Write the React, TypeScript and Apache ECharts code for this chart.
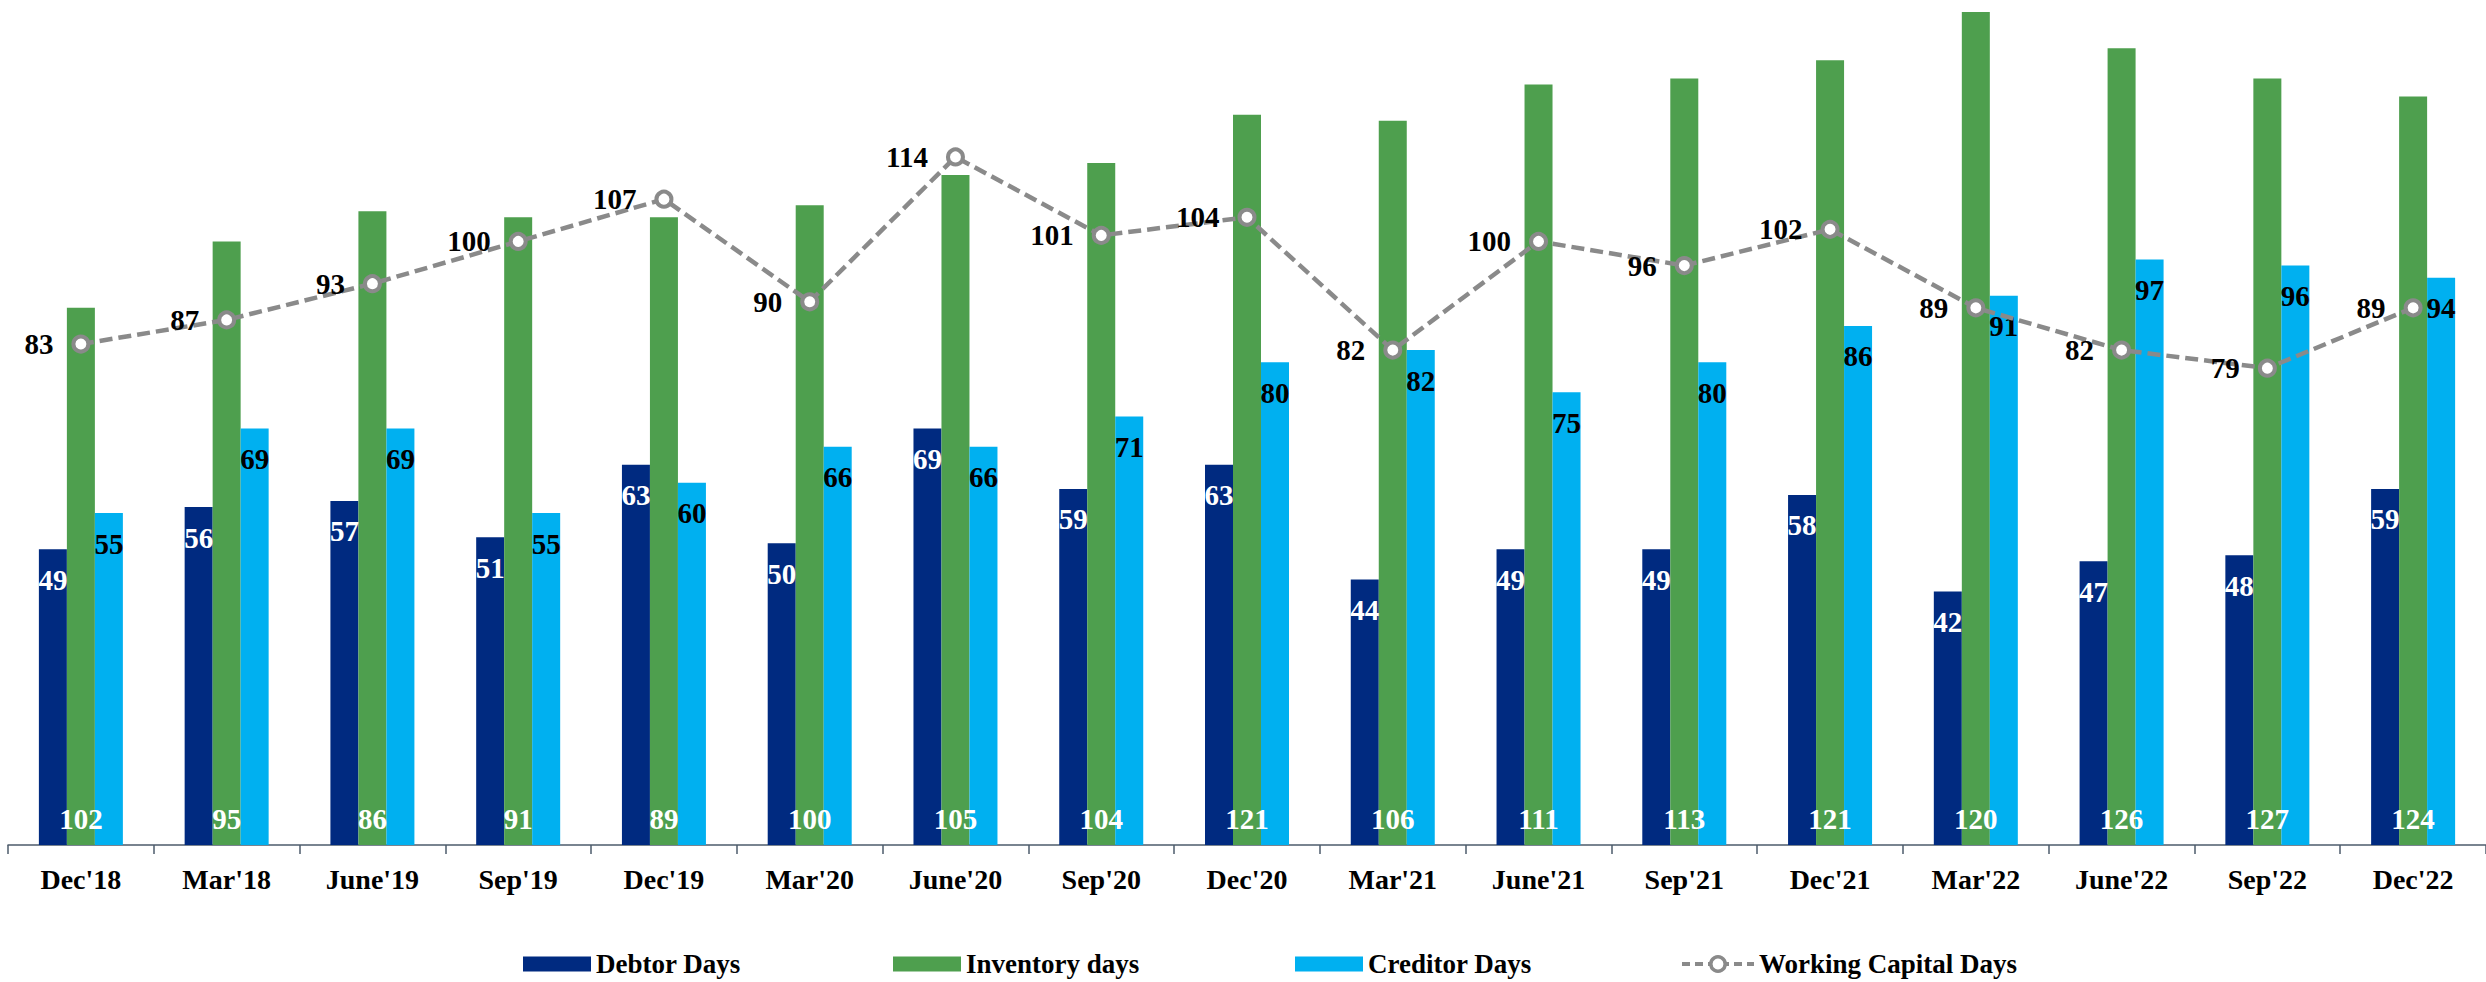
import React, { useEffect, useRef } from "react";
import * as echarts from "echarts";

const categories = [
  "Dec'18", "Mar'18", "June'19", "Sep'19", "Dec'19", "Mar'20", "June'20", "Sep'20", "Dec'20",
  "Mar'21", "June'21", "Sep'21", "Dec'21", "Mar'22", "June'22", "Sep'22", "Dec'22",
];
const debtorDays = [49, 56, 57, 51, 63, 50, 69, 59, 63, 44, 49, 49, 58, 42, 47, 48, 59];
// heights of the green bars as drawn in the picture
const inventoryBarHeights = [89, 100, 105, 104, 104, 106, 111, 113, 121, 120, 126, 127, 130, 138, 132, 127, 124];
// numbers printed on the green bars
const inventoryLabels = [102, 95, 86, 91, 89, 100, 105, 104, 121, 106, 111, 113, 121, 120, 126, 127, 124];
const creditorDays = [55, 69, 69, 55, 60, 66, 66, 71, 80, 82, 75, 80, 86, 91, 97, 96, 94];
const workingCapitalDays = [83, 87, 93, 100, 107, 90, 114, 101, 104, 82, 100, 96, 102, 89, 82, 79, 89];

const FONT = "'Liberation Serif', 'DejaVu Serif', serif";

export default function App() {
  const ref = useRef<HTMLDivElement>(null);
  useEffect(() => {
    document.body.style.margin = "0";
    const chart = echarts.init(ref.current!, undefined, { renderer: "svg" });
    const labelBase = { fontFamily: FONT, fontWeight: "bold" as const, fontSize: 29 };
    const legendBase = {
      top: 944,
      itemWidth: 68,
      itemHeight: 15,
      itemGap: 8,
      textStyle: { fontFamily: FONT, fontWeight: "bold", fontSize: 27, color: "#000", lineHeight: 30 },
    };
    chart.setOption({
      animation: false,
      backgroundColor: "#fff",
      grid: { left: 8, top: -2, width: 2481, height: 847 },
      legend: [
        { ...legendBase, left: 518, data: [{ name: "Debtor Days", icon: "rect" }] },
        { ...legendBase, left: 888, data: [{ name: "Inventory days", icon: "rect" }] },
        { ...legendBase, left: 1290, data: [{ name: "Creditor Days", icon: "rect" }] },
        {
          ...legendBase,
          left: 1675,
          itemWidth: 72,
          itemHeight: 18,
          lineStyle: { color: "#8a8a8a", width: 4, type: [8, 5] },
          itemStyle: { color: "#fff", borderColor: "#8a8a8a", borderWidth: 3.5 },
          data: [{ name: "Working Capital Days" }],
        },
      ],
      xAxis: {
        type: "category",
        data: categories,
        axisLine: { lineStyle: { color: "#4d5b6b", width: 1.5 } },
        axisTick: { show: true, length: 9, lineStyle: { color: "#4d5b6b", width: 1.5 } },
        axisLabel: { ...labelBase, fontSize: 28, color: "#000", margin: 20, interval: 0 },
      },
      yAxis: {
        type: "value",
        min: 0,
        max: 140,
        show: false,
        splitLine: { show: false },
      },
      series: [
        {
          name: "Debtor Days",
          type: "bar",
          data: debtorDays,
          barWidth: 28,
          barGap: "0%",
          itemStyle: { color: "#002A80" },
          label: { show: true, position: "insideTop", distance: 16, color: "#fff", ...labelBase },
        },
        {
          name: "Inventory days",
          type: "bar",
          data: inventoryBarHeights,
          barWidth: 28,
          barGap: "0%",
          itemStyle: { color: "#4E9F4E" },
          label: {
            show: true,
            position: "insideBottom",
            distance: 12,
            color: "#fff",
            ...labelBase,
            formatter: (p: any) => String(inventoryLabels[p.dataIndex]),
          },
        },
        {
          name: "Creditor Days",
          type: "bar",
          data: creditorDays,
          barWidth: 28,
          barGap: "0%",
          itemStyle: { color: "#00B0F0" },
          label: { show: true, position: "insideTop", distance: 16, color: "#000", ...labelBase },
        },
        {
          name: "Working Capital Days",
          type: "line",
          data: workingCapitalDays,
          symbol: "circle",
          symbolSize: 15,
          itemStyle: { color: "#fff", borderColor: "#8a8a8a", borderWidth: 4 },
          lineStyle: { color: "#8a8a8a", width: 4.5, type: [13, 6] },
          label: { show: true, position: "left", distance: 18, color: "#000", ...labelBase },
          z: 5,
        },
      ],
    });
    return () => chart.dispose();
  }, []);
  return (
    <div
      ref={ref}
      style={{ position: "absolute", left: 0, top: 0, width: 2486, height: 982 }}
    />
  );
}
